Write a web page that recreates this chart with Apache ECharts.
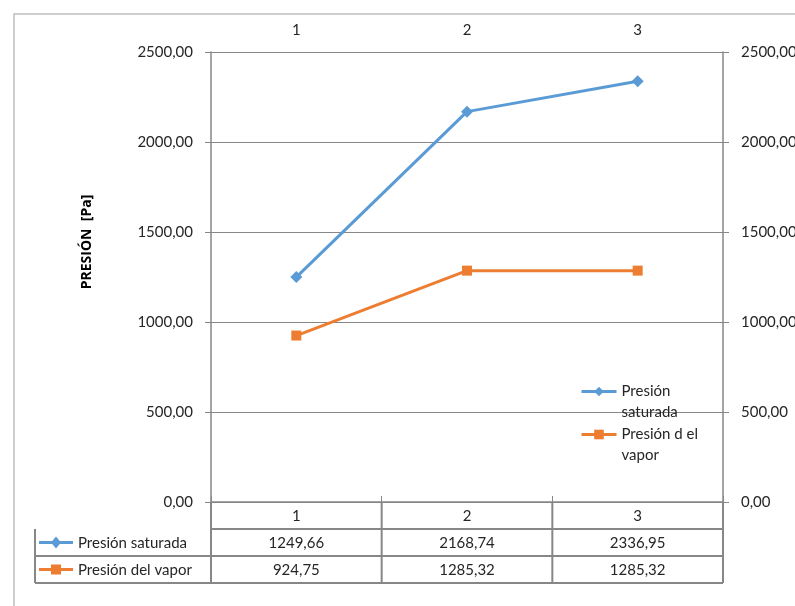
<!DOCTYPE html>
<html>
<head>
<meta charset="utf-8">
<script src="https://cdn.jsdelivr.net/npm/echarts@6/dist/echarts.min.js"></script>
<style>
  html, body { margin: 0; padding: 0; background: #fff; }
  #chart { width: 795px; height: 606px; }
</style>
</head>
<body>
<div id="chart"></div>
<script>
const categories = ['1', '2', '3'];
const presionSaturada = [1249.66, 2168.74, 2336.95];
const presionVapor = [924.75, 1285.32, 1285.32];
const seriesNames = ['Presión saturada', 'Presión del vapor'];
const legendLabels = [' \nPresión\nsaturada', ' \nPresión d el\nvapor'];
const axisTitle = 'PRESIÓN  [Pa]';

const FONT = 'Lato, "Open Sans", sans-serif';
const BLUE = '#5b9bd5';
const ORANGE = '#ed7d31';
const AXIS = '#878787';
const TEXT = '#262626';

const fmt = v => v.toFixed(2).replace('.', ',');

const chart = echarts.init(document.getElementById('chart'), null, { renderer: 'canvas' });

const yAxisBase = {
  type: 'value', min: 0, max: 2500, interval: 500,
  axisLine: { show: true, lineStyle: { color: AXIS, width: 1.5 } },
  axisTick: { show: true, length: 6, lineStyle: { color: AXIS } },
  axisLabel: { color: TEXT, fontFamily: FONT, fontSize: 15, formatter: fmt, margin: 18 }
};

chart.setOption({
  animation: false,
  grid: { left: 211, right: 72, top: 52, bottom: 104, containLabel: false, outerBoundsMode: 'none' },
  xAxis: {
    type: 'category', data: categories, position: 'top', boundaryGap: true,
    axisLine: { show: true, lineStyle: { color: AXIS, width: 1.5 } },
    axisTick: { show: true, length: 6, interval: 0, lineStyle: { color: AXIS } },
    axisLabel: { color: TEXT, fontFamily: FONT, fontSize: 15, margin: 14 }
  },
  yAxis: [
    Object.assign({}, yAxisBase, {
      position: 'left',
      splitLine: { show: true, lineStyle: { color: AXIS, width: 1 } }
    }),
    Object.assign({}, yAxisBase, {
      position: 'right',
      splitLine: { show: false }
    })
  ],
  legend: {
    orient: 'vertical', left: 580, top: 360, padding: 0,
    itemWidth: 35, itemHeight: 12, itemGap: -20,
    lineStyle: { width: 3 },
    textStyle: { color: TEXT, fontFamily: FONT, fontSize: 15, lineHeight: 21 },
    formatter: name => legendLabels[seriesNames.indexOf(name)],
    data: seriesNames
  },
  series: [
    {
      name: seriesNames[0], type: 'line', data: presionSaturada,
      symbol: 'diamond', symbolSize: 12,
      lineStyle: { color: BLUE, width: 3 }, itemStyle: { color: BLUE }
    },
    {
      name: seriesNames[1], type: 'line', data: presionVapor,
      symbol: 'rect', symbolSize: 10,
      lineStyle: { color: ORANGE, width: 3 }, itemStyle: { color: ORANGE }
    }
  ]
});

// data table under the plot, placed from the axis scales
function buildTable() {
  const xs = categories.map(c => chart.convertToPixel({ xAxisIndex: 0 }, c));
  const band = xs[1] - xs[0];
  const left = xs[0] - band / 2;
  const right = xs[xs.length - 1] + band / 2;
  const top = chart.convertToPixel({ yAxisIndex: 0 }, 0);
  const rowH = 27;
  const tableLeft = 35;
  const els = [];
  const line = (x1, y1, x2, y2) => els.push({
    type: 'line', shape: { x1, y1, x2, y2 },
    style: { stroke: AXIS, lineWidth: 2 }, z: 10
  });
  const text = (x, y, s, align) => els.push({
    type: 'text', x, y, z: 11,
    style: { text: s, fill: TEXT, font: '15px ' + FONT, align: align || 'center', verticalAlign: 'middle' }
  });

  // outer chart frame
  els.push({ type: 'rect', shape: { x: 14, y: 14, width: 800, height: 620 },
    style: { fill: null, stroke: '#bfbfbf', lineWidth: 1.5 }, z: 0 });

  // axis title
  els.push({ type: 'text', x: 87, y: 242, rotation: Math.PI / 2, z: 11,
    style: { text: axisTitle, fill: '#000', font: 'bold 14px "Open Sans", sans-serif', align: 'center', verticalAlign: 'middle' } });

  const rows = [top, top + rowH, top + 2 * rowH, top + 3 * rowH];
  line(left, rows[1], right, rows[1]);
  line(tableLeft, rows[2], right, rows[2]);
  line(tableLeft, rows[3], right, rows[3]);
  line(tableLeft, rows[1], tableLeft, rows[3]);
  line(left, top, left, rows[3]);
  line(right, top, right, rows[3]);
  for (let i = 1; i < xs.length; i++) {
    const bx = xs[i] - band / 2;
    line(bx, top, bx, rows[3]);
  }
  categories.forEach((c, i) => text(xs[i], (rows[0] + rows[1]) / 2 + 1, c));

  const data = [presionSaturada, presionVapor];
  const colors = [BLUE, ORANGE];
  data.forEach((vals, r) => {
    const cy = (rows[r + 1] + rows[r + 2]) / 2;
    els.push({ type: 'line', shape: { x1: 39, y1: cy, x2: 73, y2: cy },
      style: { stroke: colors[r], lineWidth: 3 }, z: 11 });
    if (r === 0) {
      els.push({ type: 'polygon', shape: { points: [[56, cy - 6], [61, cy], [56, cy + 6], [51, cy]] },
        style: { fill: colors[r] }, z: 12 });
    } else {
      els.push({ type: 'rect', shape: { x: 51, y: cy - 5, width: 10, height: 10 },
        style: { fill: colors[r] }, z: 12 });
    }
    text(78, cy + 1, seriesNames[r], 'left');
    vals.forEach((v, i) => text(xs[i], cy + 1, fmt(v)));
  });

  chart.setOption({ graphic: { elements: els } });
}
buildTable();
</script>
</body>
</html>
